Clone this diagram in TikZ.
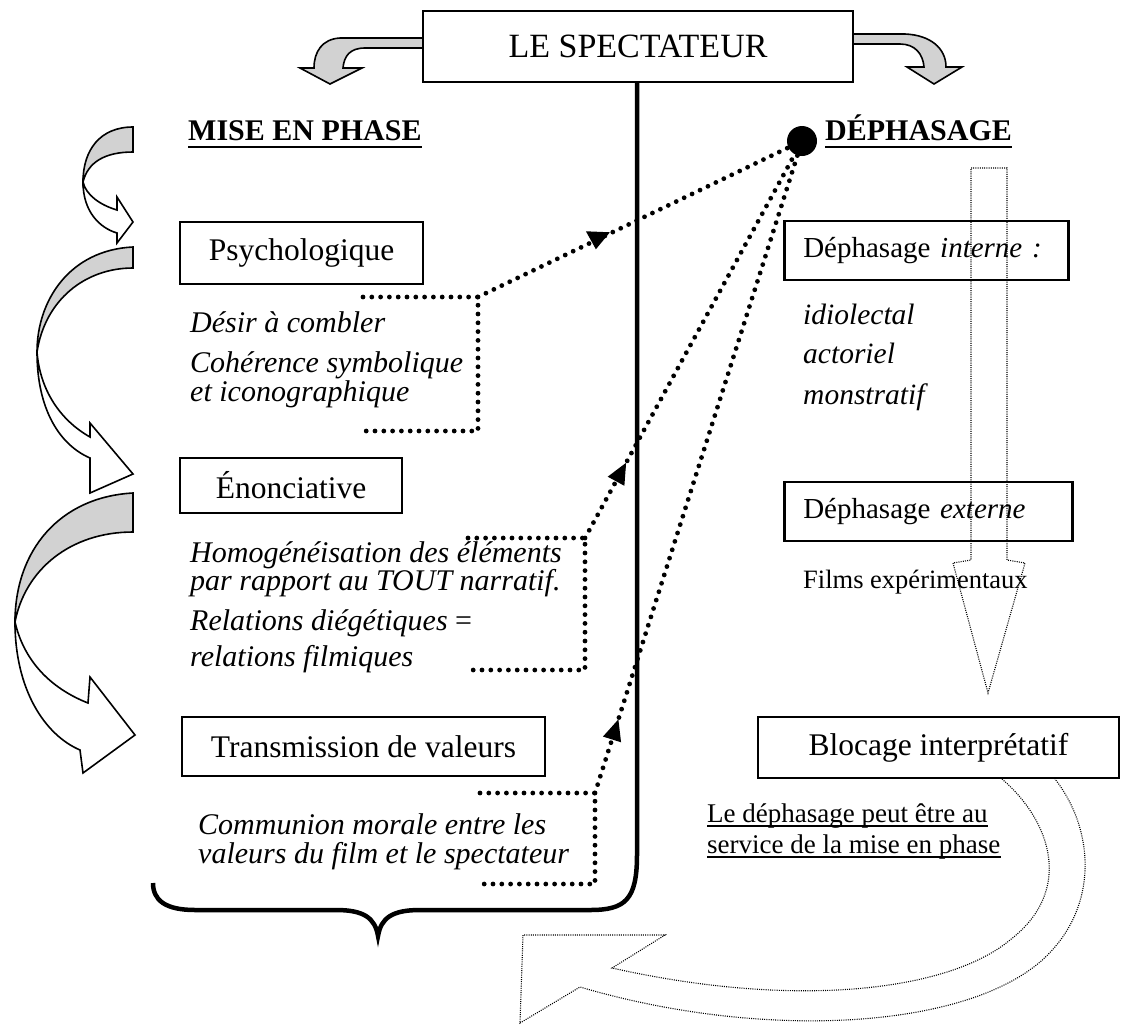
\documentclass[tikz,border=0pt]{standalone}
\usepackage{fontspec}
\setmainfont{Liberation Serif}
\usetikzlibrary{calc,decorations.markings}
\begin{document}
\begin{tikzpicture}[x=1pt,y=-1pt,
  box/.style={draw, line width=2.6pt, fill=white, inner sep=0pt, font=\fontsize{31.5}{36}\selectfont},
  itx/.style={inner sep=0pt, anchor=base west, font=\fontsize{30}{34}\selectfont\itshape},
  itr/.style={inner sep=0pt, anchor=base west, font=\fontsize{29.5}{34}\selectfont\itshape},
  plain/.style={inner sep=0pt, anchor=base west, font=\fontsize{27}{31}\selectfont},
  hdr/.style={inner sep=0pt, anchor=base west, font=\fontsize{30}{36}\selectfont\bfseries},
  dots/.style={line width=4.8pt, line cap=round, dash pattern=on 0pt off 8.8pt},
  fine/.style={line width=1.1pt, dash pattern=on 1pt off 1.2pt},
  blk/.style={draw=black, line width=1.6pt, line join=miter},
  stip/.style={fill=gray!35},
  heavy/.style={line width=4.5pt},
  tipmark/.style={postaction={decorate, decoration={markings,
     mark=at position #1 with {\fill[solid] (7,0) -- (-14,9.5) -- (-14,-9.5) -- cycle;}}}}
]
\useasboundingbox (0,0) rectangle (1122,1029);

% ---- curved block arrows near the spectator box
\filldraw[blk, stip] (424,38) -- (340,38) .. controls (322,39) and (314,52) .. (314,68)
  -- (300,68) -- (330,84) -- (362,68) -- (343,68) .. controls (344,56) and (350,48) .. (365,48) -- (424,48) -- cycle;
\filldraw[blk, stip] (852,34) -- (905,34) .. controls (930,35) and (946,48) .. (946,67)
  -- (962,67) -- (934,84) -- (907,67) -- (924,67) .. controls (923,54) and (915,44) .. (900,44) -- (852,44) -- cycle;

% ---- boxes
\node[box, minimum width=430, minimum height=71, font=\fontsize{34}{38}\selectfont] (spec) at (638,46.5) {LE SPECTATEUR};
\node[box, minimum width=243, minimum height=62] (psy) at (301.5,253) {Psychologique};
\node[box, minimum width=222, minimum height=55] (enon) at (291,485.5) {Énonciative};
\node[box, minimum width=363, minimum height=59] (trans) at (363.5,746.5) {Transmission de valeurs};
\node[box, anchor=west, minimum height=59, text width=246, align=left, inner xsep=19, font=\fontsize{29}{34}\selectfont] (dint) at (783,250.5) {Déphasage \textit{interne :}};
\node[box, anchor=west, minimum height=59, text width=250, align=left, inner xsep=19, font=\fontsize{29}{34}\selectfont] (dext) at (783,511.5) {Déphasage \textit{externe}};
\node[box, minimum width=361, minimum height=61] (bloc) at (938.5,747.5) {Blocage interprétatif};

% ---- main vertical line and brace
\coordinate (vtop) at (637,82);
\draw[heavy] (vtop) -- (637,855) .. controls (637,900) and (625,910) .. (590,910) -- (420,910)
  .. controls (392,910) and (381,918) .. (378,936) .. controls (375,918) and (364,910) .. (336,910)
  -- (195,910) .. controls (165,910) and (153,900) .. (153,883);

% ---- headers
\node[hdr] (mise) at (188,140) {MISE EN PHASE};
\draw[line width=2.2pt] ([yshift=-7pt]mise.base west) -- ([yshift=-7pt]mise.base east);
\node[hdr] (deph) at (825,140) {DÉPHASAGE};
\draw[line width=2.2pt] ([yshift=-7pt]deph.base west) -- ([yshift=-7pt]deph.base east);
\node[circle, fill=black, minimum size=30, inner sep=0pt] (dot) at (802,141) {};

% ---- left texts
\node[itx] (t1) at (190,332) {Désir à combler};
\node[itx] (t2) at (190,372) {Cohérence symbolique};
\node[itx] (t3) at (190,401) {et iconographique};
\node[itx] (t4) at (190,562) {Homogénéisation des éléments};
\node[itx] (t5) at (190,590) {par rapport au TOUT narratif.};
\node[itx] (t6) at (190,630) {Relations diégétiques {\upshape =}};
\node[itx] (t7) at (190,666) {relations filmiques};
\node[itx] (t8) at (198,834) {Communion morale entre les};
\node[itx] (t9) at (198,863) {valeurs du film et le spectateur};

% ---- right texts
\node[itr] (r1) at (803,324) {idiolectal};
\node[itr] (r2) at (803,363) {actoriel};
\node[itr] (r3) at (803,404) {monstratif};
\node[plain, font=\fontsize{26.5}{30}\selectfont] (films) at (803,588) {Films expérimentaux};
\node[plain] (n1) at (707,822) {Le déphasage peut être au};
\draw[line width=1.3pt] ([yshift=-4pt]n1.base west) -- ([yshift=-4pt]n1.base east);
\node[plain] (n2) at (707,853) {service de la mise en phase};
\draw[line width=1.3pt] ([yshift=-4pt]n2.base west) -- ([yshift=-4pt]n2.base east);

% ---- dotted brackets and connectors
\coordinate (pa) at (363,297); \coordinate (pc) at (478,297);
\coordinate (pd) at (478,431); \coordinate (pe) at (363,431);
\draw[dots] (pa) -- (pc) -- (pd) -- (pe);
\coordinate (ea) at (468,538); \coordinate (ec) at (585,538);
\coordinate (ed) at (585,670); \coordinate (ee) at (468,670);
\draw[dots] (ea) -- (ec) -- (ed) -- (ee);
\coordinate (ta) at (480,793); \coordinate (tc) at (595,793);
\coordinate (td) at (595,884); \coordinate (te) at (480,884);
\draw[dots] (ta) -- (tc) -- (td) -- (te);

\draw[dots] (pc) -- (dot);
\coordinate (ah) at ($(pc)!0.37!(dot.center)$);
\fill (ah) +(-12,-8) -- +(12,-7) -- +(-2,10) -- cycle;
\draw[dots, tipmark=0.18] (ec) -- (dot);
\draw[dots, tipmark=0.105] (tc) -- (dot);

% ---- left curved block arrows
\filldraw[blk, stip] (133,127) .. controls (100,127) and (83,150) .. (83,182)
  .. controls (88,162) and (105,152) .. (133,152) -- cycle;
\filldraw[blk, fill=white] (83,182) .. controls (83,212) and (100,228) .. (117,233) -- (117,243) -- (133,222)
  -- (117,197) -- (117,210) .. controls (100,205) and (86,195) .. (83,182) -- cycle;

\filldraw[blk, stip] (133,247) .. controls (70,250) and (37,300) .. (37,352)
  .. controls (45,300) and (85,268) .. (133,268) -- cycle;
\filldraw[blk, fill=white] (37,352) .. controls (37,410) and (60,445) .. (90,458) -- (90,493) -- (133,474)
  -- (90,423) -- (90,437) .. controls (60,420) and (40,390) .. (37,352) -- cycle;

\filldraw[blk, stip] (133,493) .. controls (60,497) and (15,550) .. (15,622)
  .. controls (25,570) and (70,532) .. (133,532) -- cycle;
\filldraw[blk, fill=white] (15,622) .. controls (15,690) and (45,735) .. (80,750) -- (83,773) -- (135,735)
  -- (90,677) -- (88,703) .. controls (55,690) and (25,665) .. (15,622) -- cycle;

% ---- thin dotted arrows on the right
\draw[fine] (971,168) -- (1007,168) -- (1007,560) -- (1025,563) -- (988,693) -- (953,563) -- (971,560) -- cycle;
\draw[fine] (1002,779) .. controls (1050,820) and (1075,890) .. (1010,940)
  .. controls (950,990) and (800,1010) .. (612,968) -- (665,935) -- (523,935) -- (520,1023) -- (580,987)
  .. controls (760,1040) and (960,1030) .. (1040,962) .. controls (1100,910) and (1095,830) .. (1055,779);
\end{tikzpicture}
\end{document}
